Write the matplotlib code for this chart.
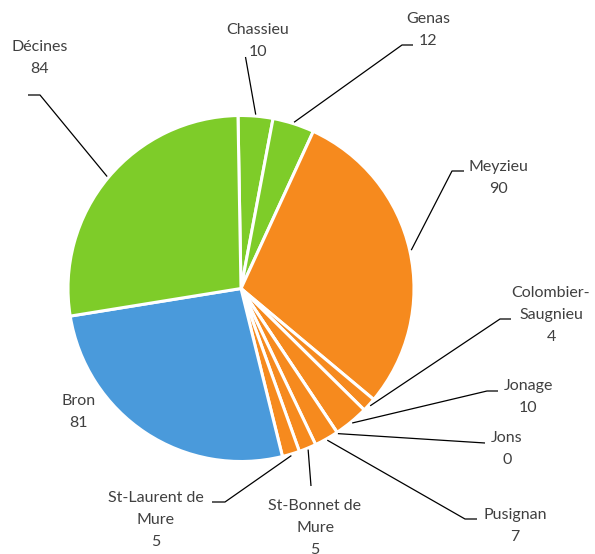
import numpy as np
import matplotlib
matplotlib.use("Agg")
import matplotlib.pyplot as plt

# ---- data ----
communes = ["Chassieu", "Genas", "Meyzieu", "Colombier-\nSaugnieu", "Jonage", "Jons",
            "Pusignan", "St-Bonnet de\nMure", "St-Laurent de\nMure", "Bron", "Décines"]
values = [10, 12, 90, 4, 10, 0, 7, 5, 5, 81, 84]
GREEN, ORANGE, BLUE = "#7ECC29", "#F68A1E", "#4A9ADB"
colors = [GREEN, GREEN, ORANGE, ORANGE, ORANGE, ORANGE, ORANGE, ORANGE, ORANGE, BLUE, GREEN]

# ---- layout (pixel coords, y measured from top) ----
W, H = 595, 554
CX, CY, R = 241, 288.5, 173
# label centre, elbow point, end of horizontal segment (None = no leader)
label_pos = [(258, 41), (428, 30), (498, 178), (551, 315), (528, 397), (507, 449),
             (515, 526), (315, 528), (156, 520), (79, 412), (40, 58)]
elbows = [(245.5, 57), (402, 45), (452, 171), (500, 319), (487, 391), (485, 443),
          (465, 519), (311, 486), (225, 502), None, (40, 95)]
ends = [None, (413, 45), (464, 171), (511, 319), (498, 391), None,
        (477, 519), None, (212, 502), None, (28, 95)]

plt.rcParams['font.family'] = ['Lato', 'DejaVu Sans']
fig = plt.figure(figsize=(W / 100, H / 100), dpi=100)
ax = fig.add_axes([0, 0, 1, 1])

fy = lambda y: H - y

wedges, _ = ax.pie(values, colors=colors, startangle=91, counterclock=False,
                   center=(CX, fy(CY)), radius=R,
                   wedgeprops=dict(edgecolor='white', linewidth=2.2))
ax.set_xlim(0, W)
ax.set_ylim(0, H)
ax.set_aspect('equal')
ax.axis('off')

for i, (name, v, w) in enumerate(zip(communes, values, wedges)):
    lx, ly = label_pos[i]
    ax.text(lx, fy(ly), f"{name}\n{v}", ha='center', va='center', fontsize=11.5,
            color='#404040', linespacing=1.75)
    if elbows[i] is None:
        continue
    mid = np.deg2rad((w.theta1 + w.theta2) / 2)
    sx = CX + (R + 1.5) * np.cos(mid)
    sy = fy(CY) + (R + 1.5) * np.sin(mid)
    xs = [sx, elbows[i][0]]
    ys = [sy, fy(elbows[i][1])]
    if ends[i] is not None:
        xs.append(ends[i][0])
        ys.append(fy(ends[i][1]))
    ax.plot(xs, ys, color='black', lw=0.9, solid_capstyle='butt')

fig.savefig("out.png", dpi=100, facecolor='white')
